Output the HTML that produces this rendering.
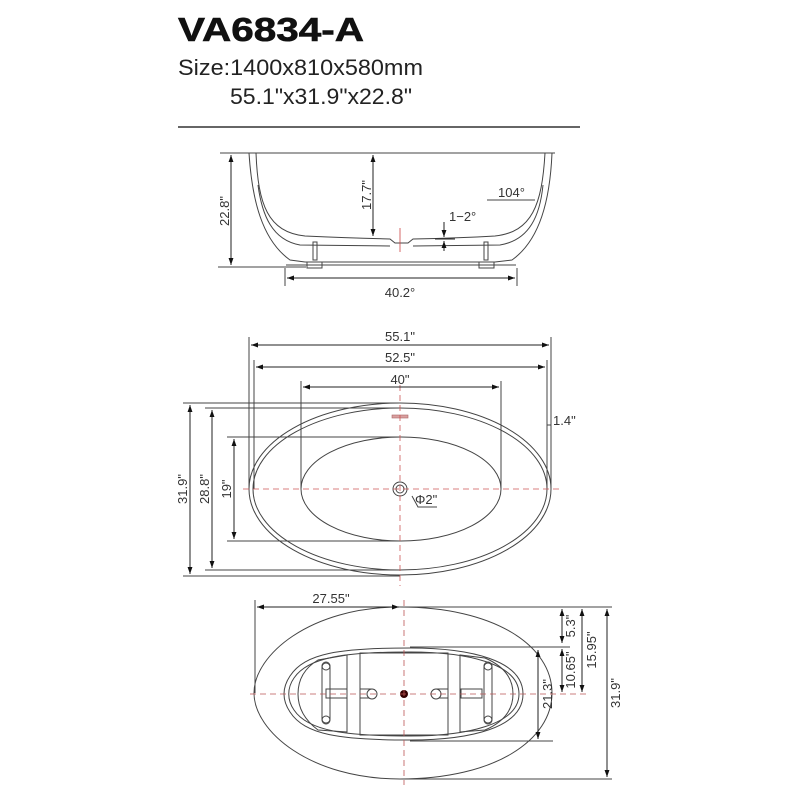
<!DOCTYPE html>
<html><head><meta charset="utf-8"><style>html,body{margin:0;padding:0;background:#fff}svg{display:block}</style></head>
<body>
<svg width="800" height="800" viewBox="0 0 800 800" xmlns="http://www.w3.org/2000/svg" font-family="Liberation Sans, sans-serif">
<defs>
<marker id="a" viewBox="0 0 10 10" refX="10" refY="5" markerWidth="7" markerHeight="7" orient="auto-start-reverse"><path d="M0,1.5 L10,5 L0,8.5z" fill="#111"/></marker>
</defs>
<rect width="800" height="800" fill="#fff"/>
<text x="178" y="41" font-size="33" font-weight="bold" textLength="186" lengthAdjust="spacingAndGlyphs" fill="#111" stroke="#111" stroke-width="0.6">VA6834-A</text>
<text x="178" y="75" font-size="22" textLength="245" lengthAdjust="spacingAndGlyphs" fill="#222">Size:1400x810x580mm</text>
<text x="230" y="104" font-size="22" textLength="182" lengthAdjust="spacingAndGlyphs" fill="#222">55.1"x31.9"x22.8"</text>
<line x1="178" y1="127" x2="580" y2="127" stroke="#333" stroke-width="1.5"/>

<!-- Side view -->
<g fill="none" stroke="#444" stroke-width="1">
<line x1="220" y1="153" x2="555" y2="153"/>
<path d="M249,153 C252,200 262,240 290,260 L305,262"/>
<path d="M256,153 C258,205 268,232 305,236 Q350,238 390,239 L395,243 L408,243 L413,239 Q460,238 495,236 C532,232 542,205 545,153"/>
<path d="M552,153 C550,200 540,240 512,260 L495,262"/>
<path d="M258,185 C262,215 272,240 300,245 L390,246"/>
<path d="M543,185 C540,215 530,240 500,245 L413,246"/>
<line x1="305" y1="262" x2="495" y2="262"/>
<line x1="286" y1="265" x2="516" y2="265"/>
<rect x="313" y="242" width="4" height="18"/><rect x="484" y="242" width="4" height="18"/>
<rect x="307" y="262" width="15" height="6"/><rect x="479" y="262" width="15" height="6"/>
<line x1="218" y1="267" x2="306" y2="267"/>
<line x1="487" y1="200" x2="535" y2="200"/>
<line x1="285" y1="268" x2="285" y2="286"/><line x1="517" y1="268" x2="517" y2="286"/>
</g>
<line x1="400" y1="228" x2="400" y2="252" stroke="#c44" stroke-width="0.8"/>
<g stroke="#222" stroke-width="1" fill="none">
<line x1="231" y1="155" x2="231" y2="265" marker-start="url(#a)" marker-end="url(#a)"/>
<line x1="373" y1="155" x2="373" y2="236" marker-start="url(#a)" marker-end="url(#a)"/>
<line x1="287" y1="278" x2="515" y2="278" marker-start="url(#a)" marker-end="url(#a)"/>
<line x1="444" y1="222" x2="444" y2="237" marker-end="url(#a)"/>
<line x1="444" y1="251" x2="444" y2="241" marker-end="url(#a)"/>
<line x1="435" y1="239" x2="455" y2="239"/>
</g>
<g font-size="13" fill="#333">
<text transform="translate(229,211) rotate(-90)" text-anchor="middle">22.8"</text>
<text transform="translate(371,195) rotate(-90)" text-anchor="middle">17.7"</text>
<text x="400" y="297" text-anchor="middle">40.2°</text>
<text x="498" y="197">104°</text>
<text x="449" y="221">1−2°</text>
</g>

<!-- Top view -->
<g fill="none" stroke="#444" stroke-width="1">
<ellipse cx="400" cy="489" rx="151" ry="86"/>
<ellipse cx="400" cy="489" rx="147" ry="81"/>
<ellipse cx="401" cy="489" rx="100" ry="52"/>
<circle cx="400" cy="489" r="7"/><circle cx="400" cy="489" r="4"/>
<line x1="249" y1="337" x2="249" y2="489"/><line x1="551" y1="337" x2="551" y2="489"/>
<line x1="254" y1="360" x2="254" y2="489"/><line x1="547" y1="360" x2="547" y2="489"/>
<line x1="301" y1="381" x2="301" y2="489"/><line x1="501" y1="381" x2="501" y2="489"/>
<line x1="183" y1="403" x2="400" y2="403"/><line x1="183" y1="576" x2="400" y2="576"/>
<line x1="205" y1="408" x2="400" y2="408"/><line x1="205" y1="570" x2="400" y2="570"/>
<line x1="227" y1="437" x2="400" y2="437"/><line x1="227" y1="541" x2="400" y2="541"/>
<line x1="547" y1="425" x2="551" y2="425"/>
<polyline points="412,496 418,507 437,507"/>
</g>
<rect x="392" y="415" width="16" height="3" fill="#d9a0a0" stroke="#a66" stroke-width="0.6"/>
<g stroke="#c55" stroke-width="0.8" stroke-dasharray="6,4">
<line x1="243" y1="489" x2="560" y2="489"/>
<line x1="400" y1="385" x2="400" y2="586"/>
</g>
<g stroke="#222" stroke-width="1" fill="none">
<line x1="251" y1="345" x2="549" y2="345" marker-start="url(#a)" marker-end="url(#a)"/>
<line x1="256" y1="367" x2="545" y2="367" marker-start="url(#a)" marker-end="url(#a)"/>
<line x1="303" y1="387" x2="499" y2="387" marker-start="url(#a)" marker-end="url(#a)"/>
<line x1="190" y1="405" x2="190" y2="574" marker-start="url(#a)" marker-end="url(#a)"/>
<line x1="212" y1="410" x2="212" y2="568" marker-start="url(#a)" marker-end="url(#a)"/>
<line x1="234" y1="439" x2="234" y2="539" marker-start="url(#a)" marker-end="url(#a)"/>
</g>
<g font-size="13" fill="#333">
<text x="400" y="341" text-anchor="middle">55.1"</text>
<text x="400" y="362" text-anchor="middle">52.5"</text>
<text x="400" y="384" text-anchor="middle">40"</text>
<text x="553" y="425">1.4"</text>
<text x="415" y="504">Φ2"</text>
<text transform="translate(187,489) rotate(-90)" text-anchor="middle">31.9"</text>
<text transform="translate(209,489) rotate(-90)" text-anchor="middle">28.8"</text>
<text transform="translate(231,489) rotate(-90)" text-anchor="middle">19"</text>
</g>

<!-- Bottom view -->
<g fill="none" stroke="#444" stroke-width="1">
<path d="M400,607 C310,607 254,655 254,693 C254,731 310,779 400,779 C495,779 552,740 552,693 C552,646 495,607 400,607Z"/>
<path d="M410,648 C470,648 523,660 523,694 C523,728 470,740 410,740 C340,740 305,735 290,712 C282,700 282,688 290,676 C305,653 340,648 410,648Z"/>
<path d="M410,652 C465,652 519,663 519,694 C519,725 465,736 410,736 C345,736 308,731 294,710 C287,700 287,688 294,678 C308,657 345,652 410,652Z"/>
<path d="M347,655 L347,732 L318,730 Q298,715 298,694 Q298,672 318,660Z"/>
<rect x="360" y="653" width="88" height="82"/>
<path d="M460,655 L460,732 L485,730 Q513,718 513,694 Q513,670 485,658Z"/>
<rect x="322" y="663" width="8" height="60" rx="4"/>
<rect x="484" y="663" width="8" height="60" rx="4"/>
<rect x="326" y="689" width="21" height="9"/><rect x="461" y="689" width="21" height="9"/>
<rect x="360" y="689" width="12" height="9"/><rect x="436" y="689" width="12" height="9"/>
<circle cx="372" cy="694" r="5" fill="#fff"/><circle cx="436" cy="694" r="5" fill="#fff"/>
<circle cx="326" cy="666" r="4"/><circle cx="326" cy="720" r="4"/>
<circle cx="488" cy="666" r="4"/><circle cx="488" cy="720" r="4"/>
<line x1="255" y1="600" x2="255" y2="693"/>
<line x1="400" y1="607" x2="612" y2="607"/>
<line x1="400" y1="779" x2="612" y2="779"/>
<line x1="410" y1="647" x2="570" y2="647"/>
<line x1="410" y1="741" x2="553" y2="741"/>
</g>
<circle cx="404" cy="694" r="4" fill="#300"/>
<g stroke="#b55" stroke-width="0.8" stroke-dasharray="6,4">
<line x1="250" y1="694" x2="590" y2="694"/>
<line x1="404" y1="600" x2="404" y2="785"/>
</g>
<g stroke="#222" stroke-width="1" fill="none">
<line x1="257" y1="607" x2="399" y2="607" marker-start="url(#a)" marker-end="url(#a)"/>
<line x1="562" y1="609" x2="562" y2="643" marker-start="url(#a)" marker-end="url(#a)"/>
<line x1="562" y1="649" x2="562" y2="692" marker-start="url(#a)" marker-end="url(#a)"/>
<line x1="582" y1="609" x2="582" y2="692" marker-start="url(#a)" marker-end="url(#a)"/>
<line x1="607" y1="609" x2="607" y2="777" marker-start="url(#a)" marker-end="url(#a)"/>
<line x1="538" y1="650" x2="538" y2="739" marker-start="url(#a)" marker-end="url(#a)"/>
</g>
<g font-size="13" fill="#333">
<text x="331" y="603" text-anchor="middle">27.55"</text>
<text transform="translate(575,626) rotate(-90)" text-anchor="middle">5.3"</text>
<text transform="translate(575,670) rotate(-90)" text-anchor="middle">10.65"</text>
<text transform="translate(596,650) rotate(-90)" text-anchor="middle">15.95"</text>
<text transform="translate(552,694) rotate(-90)" text-anchor="middle">21.3"</text>
<text transform="translate(620,693) rotate(-90)" text-anchor="middle">31.9"</text>
</g>
</svg>
</body></html>
